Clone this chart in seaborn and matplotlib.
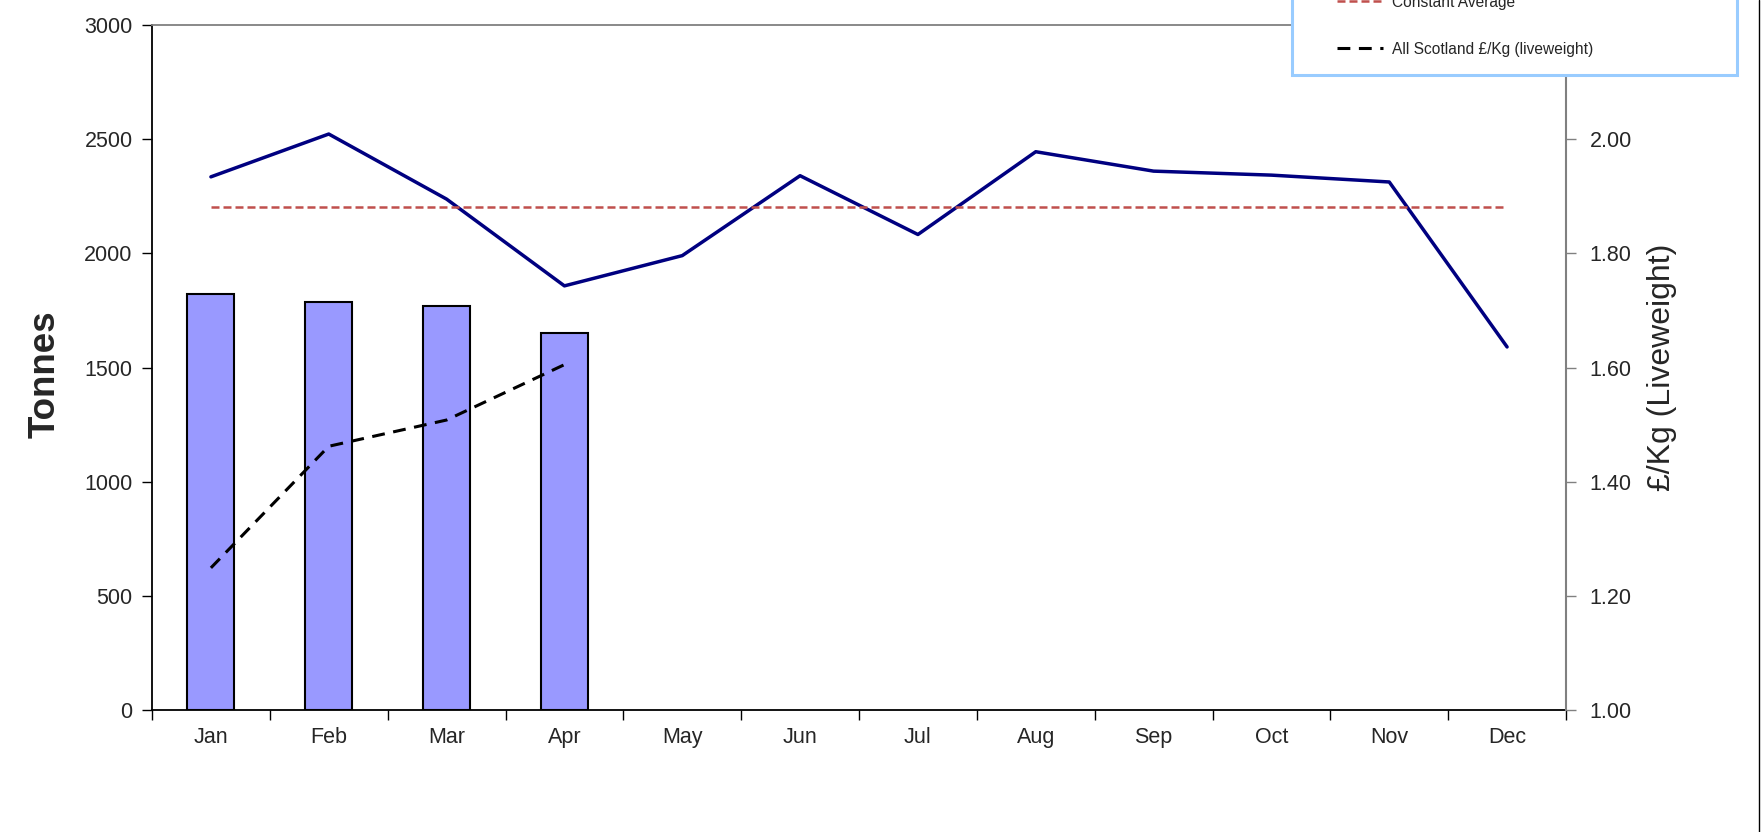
import numpy as np
import seaborn as sns
import matplotlib.pyplot as plt
from matplotlib.patches import Rectangle
from matplotlib.lines import Line2D
from matplotlib.ticker import MultipleLocator, FixedLocator, FormatStrFormatter

# Datos
months = ['Jan', 'Feb', 'Mar', 'Apr', 'May', 'Jun',
          'Jul', 'Aug', 'Sep', 'Oct', 'Nov', 'Dec']
tonnes_months = ['Jan', 'Feb', 'Mar', 'Apr']
tonnes = [1823, 1788, 1770, 1653]
price_previous = [1.934, 2.009, 1.895, 1.743, 1.796, 1.936,
                  1.833, 1.978, 1.944, 1.937, 1.925, 1.636]
constant_average = [1.881] * len(months)
scotland_price = [1.249, 1.462, 1.508, 1.605]

sns.set_style("white")
plt.rcParams['font.family'] = ['Liberation Sans', 'DejaVu Sans']

W, H = 1762, 832
fig = plt.figure(figsize=(W / 100, H / 100), dpi=100)
ax = fig.add_axes([152 / W, 1 - 710 / H, (1566 - 152) / W, (710 - 25) / H])

# Barras (toneladas)
sns.barplot(x=tonnes_months, y=tonnes, order=months, color='#9999FF',
            saturation=1, edgecolor='black', linewidth=1.5, width=0.4, ax=ax)

# Líneas de precio en el eje derecho
ax2 = ax.twinx()
pos = np.arange(len(months))
sns.lineplot(x=pos, y=price_previous, color='#000080', lw=2.5, ax=ax2)
sns.lineplot(x=pos, y=constant_average, color='#C0504D', lw=1.8,
             linestyle=(0, (3.2, 1.6)), ax=ax2)
sns.lineplot(x=pos[:len(scotland_price)], y=scotland_price, color='black',
             lw=2.2, linestyle=(0, (4.2, 2.8)), ax=ax2)

# Ejes
ax.set_xlim(-0.5, 11.5)
ax.set_ylim(0, 3000)
ax.yaxis.set_major_locator(MultipleLocator(500))
ax2.set_ylim(1.0, 2.2)
ax2.yaxis.set_major_locator(MultipleLocator(0.2))
ax2.yaxis.set_major_formatter(FormatStrFormatter('%.2f'))

ax.xaxis.set_minor_locator(FixedLocator(np.arange(-0.5, 12, 1)))
ax.tick_params(axis='x', which='major', length=0, pad=12, labelsize=15.5)
ax.tick_params(axis='x', which='minor', bottom=True, length=7, width=1,
               direction='out', color='black')
ax.tick_params(axis='y', left=True, length=7, width=1, direction='out',
               pad=7, labelsize=15.5, color='black')
ax2.tick_params(axis='y', right=True, length=7, width=1, direction='out',
                pad=10, labelsize=15.5, color='#808080')

ax.set_xlabel('')
ax.set_ylabel('Tonnes', fontsize=26.5, fontweight='bold', va='center')
ax.yaxis.set_label_coords(-0.0757, 0.49)
ax2.set_ylabel('£/Kg (Liveweight)', fontsize=23, va='center')
ax2.yaxis.set_label_coords(1.068, 0.5)

for s in ['left', 'bottom']:
    ax.spines[s].set_color('black')
    ax.spines[s].set_linewidth(1.3)
ax.spines['top'].set_color('#808080')
ax.spines['top'].set_linewidth(1.3)
ax.spines['right'].set_visible(False)
for s in ['left', 'top', 'bottom']:
    ax2.spines[s].set_visible(False)
ax2.spines['right'].set_color('#808080')
ax2.spines['right'].set_linewidth(1.5)

# Leyenda (recortada por arriba como en el original)
fig.add_artist(Rectangle((1292 / W, 1 - 75 / H), (1737 - 1292) / W, 0.2,
                         transform=fig.transFigure, facecolor='white',
                         edgecolor='#99CCFF', lw=2.2, zorder=4))
leg = fig.legend([ax2.lines[1], ax2.lines[2]],
                 ['Constant Average', 'All Scotland £/Kg (liveweight)'],
                 loc='upper left', bbox_to_anchor=(1329 / W, 1 + 13 / H),
                 frameon=False, fontsize=11.2, labelspacing=2.06,
                 handlelength=3.0, handletextpad=0.55, borderpad=0)
leg.set_zorder(5)

# Borde derecho del área del gráfico
fig.add_artist(Line2D([1759 / W, 1759 / W], [0, 1], color='black', lw=1))

plt.savefig('out.png', dpi=100)
